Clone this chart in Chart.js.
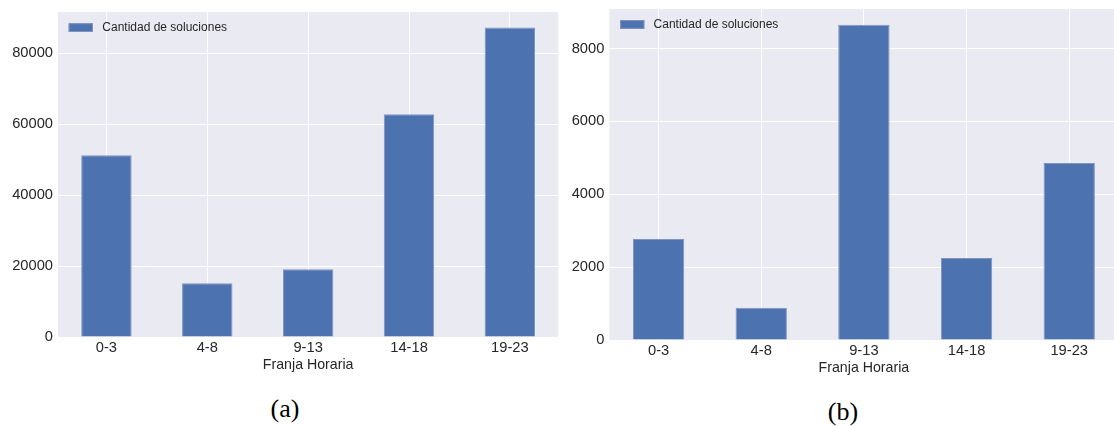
<!DOCTYPE html>
<html>
<head>
<meta charset="utf-8">
<script src="https://cdn.jsdelivr.net/npm/chart.js@4/dist/chart.umd.min.js"></script>
<style>
  html, body { margin: 0; padding: 0; background: #ffffff; width: 1114px; height: 426px; overflow: hidden; }
  .panel { position: absolute; top: 0; }
  #panelA { left: 0; width: 560px; height: 374px; }
  #panelB { left: 562px; width: 560px; height: 377px; }
  .cap { position: absolute; font-family: "Liberation Serif", serif; font-size: 26px; line-height: 26px; color: #000; transform: translateX(-50%); white-space: nowrap; }
</style>
</head>
<body>
<div class="panel" id="panelA"><canvas id="chartA"></canvas></div>
<div class="panel" id="panelB"><canvas id="chartB"></canvas></div>
<div class="cap" style="left:285px; top:396px;">(a)</div>
<div class="cap" style="left:843px; top:399px;">(b)</div>
<script>
// Solutions per time slot, two periods
const categories = ['0-3', '4-8', '9-13', '14-18', '19-23'];
const solucionesA = [51220, 15140, 19090, 62780, 87250];
const solucionesB = [2770, 886, 8650, 2250, 4857];
const yTicksA = [0, 20000, 40000, 60000, 80000];
const yTicksB = [0, 2000, 4000, 6000, 8000];
const seriesLabel = 'Cantidad de soluciones';
const xTitle = 'Franja Horaria';

const BAR_COLOR = '#4C72B0';
const BAR_EDGE = '#8193bd';
const PLOT_BG = '#EAEAF2';
const TEXT = '#262626';
const FONT = '"Liberation Sans", Arial, sans-serif';

Chart.defaults.font.family = FONT;
Chart.defaults.color = TEXT;

// grey plotting background behind the grid
const plotBackground = {
  id: 'plotBackground',
  beforeDraw(chart) {
    const { ctx, chartArea: a } = chart;
    ctx.save();
    ctx.fillStyle = PLOT_BG;
    ctx.fillRect(a.left, a.top, a.right - a.left, a.bottom - a.top);
    ctx.restore();
  }
};

// frameless key in the upper-left corner of the plot
const seriesKey = {
  id: 'seriesKey',
  afterDatasetsDraw(chart, args, opts) {
    const { ctx, chartArea: a } = chart;
    const ds = chart.data.datasets[0];
    const bx = a.left + 10.7, by = a.top + opts.dy;
    ctx.save();
    ctx.fillStyle = ds.backgroundColor;
    ctx.fillRect(bx, by, 24.3, 8.7);
    ctx.strokeStyle = ds.borderColor;
    ctx.lineWidth = 1;
    ctx.strokeRect(bx + 0.5, by + 0.5, 23.3, 7.7);
    ctx.fillStyle = TEXT;
    ctx.font = '12px ' + FONT;
    ctx.textBaseline = 'middle';
    ctx.textAlign = 'left';
    ctx.fillText(ds.label, bx + 33.6, by + 4.6);
    ctx.restore();
  }
};

function makeChart(id, values, yTicks, layout) {
  const points = values.map((v, i) => ({ x: i, y: v }));
  return new Chart(document.getElementById(id), {
    type: 'bar',
    data: {
      datasets: [{
        label: seriesLabel,
        data: points,
        backgroundColor: BAR_COLOR,
        borderColor: BAR_EDGE,
        borderWidth: 1,
        categoryPercentage: 1,
        barPercentage: 0.5
      }]
    },
    options: {
      responsive: true,
      maintainAspectRatio: false,
      animation: false,
      devicePixelRatio: 1,
      layout: { padding: { top: layout.padTop, right: layout.padRight, left: 0, bottom: 0 } },
      plugins: {
        legend: { display: false },
        tooltip: { enabled: false },
        seriesKey: { dy: layout.keyDy }
      },
      scales: {
        x: {
          type: 'linear',
          min: -0.48,
          max: 4.48,
          offset: false,
          grid: { color: '#ffffff', lineWidth: 1, drawTicks: false, offset: false },
          border: { display: false },
          afterBuildTicks: s => { s.ticks = categories.map((c, i) => ({ value: i })); },
          afterFit: s => { s.height = layout.xHeight; s.paddingLeft = 0; s.paddingRight = 0; },
          ticks: {
            padding: 2,
            maxRotation: 0,
            autoSkip: false,
            color: TEXT,
            font: { size: 14.7 },
            callback: v => categories[v]
          },
          title: {
            display: true,
            text: xTitle,
            color: TEXT,
            font: { size: 14.2 },
            padding: { top: 0, bottom: 0 }
          }
        },
        y: {
          min: 0,
          max: Math.max(...values) * 1.05,
          grid: { color: '#ffffff', lineWidth: 1, drawTicks: false },
          border: { display: false },
          afterBuildTicks: s => { s.ticks = yTicks.map(v => ({ value: v })); },
          afterFit: s => { s.width = layout.yWidth; s.paddingTop = 0; s.paddingBottom = 0; },
          ticks: {
            padding: 5,
            color: TEXT,
            font: { size: 14.7 },
            callback: v => String(v)
          }
        }
      }
    },
    plugins: [plotBackground, seriesKey]
  });
}

makeChart('chartA', solucionesA, yTicksA, { padTop: 12, padRight: 1.7, yWidth: 58, xHeight: 37, keyDy: 11.3 });
makeChart('chartB', solucionesB, yTicksB, { padTop: 9, padRight: 3.5, yWidth: 47.3, xHeight: 37, keyDy: 11.1 });
</script>
</body>
</html>
